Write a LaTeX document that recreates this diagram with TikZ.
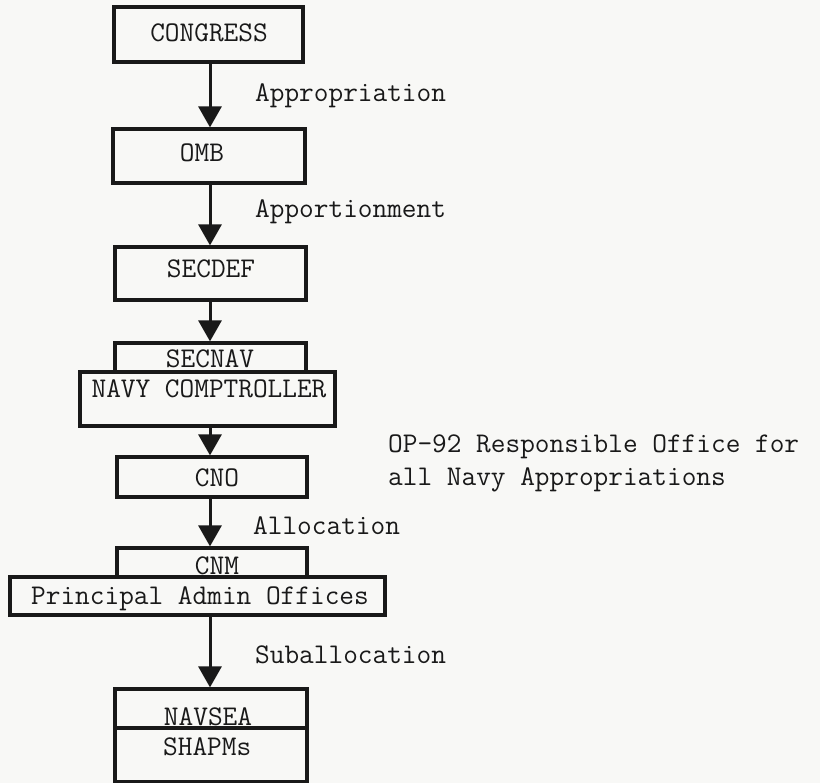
\documentclass[tikz,border=0pt]{standalone}
\usepackage{fontspec}
\newfontfamily\tw{Latin Modern Mono}
\usetikzlibrary{arrows.meta}
\definecolor{paper}{RGB}{248,248,246}
\definecolor{ink}{RGB}{25,25,25}
\begin{document}
\begin{tikzpicture}[x=1pt,y=-1pt,
  box/.style={draw=ink,line width=3.2pt,minimum width=#1,inner sep=0pt},
  txt/.style={font=\tw\fontsize{28.5}{32}\selectfont,text=ink,inner sep=0pt,anchor=base},
  lbl/.style={font=\tw\fontsize{28.5}{32}\selectfont,text=ink,inner sep=0pt,anchor=base west},
  flow/.style={draw=ink,line width=3pt,-{Triangle[width=23pt,length=21pt]}}]
\fill[paper] (0,0) rectangle (820,783);
\useasboundingbox (0,0) rectangle (820,783);
\coordinate (col) at (210,0);
% boxes
\node[box=189pt,minimum height=55pt] (congress) at (208.5,34.5) {};
\node[box=192pt,minimum height=54pt] (omb) at (209,156) {};
\node[box=191pt,minimum height=53pt] (secdef) at (210.5,273.5) {};
\node[box=191pt,minimum height=29pt] (secnav) at (210.5,357.5) {};
\node[box=255pt,minimum height=54pt] (compt) at (207.5,399) {};
\node[box=190pt,minimum height=40pt] (cno) at (212,477) {};
\node[box=190pt,minimum height=29pt] (cnm) at (212,562.5) {};
\node[box=375pt,minimum height=38pt] (pao) at (197.5,596) {};
\node[box=192pt,minimum height=39pt] (navsea) at (211,708.5) {};
\node[box=192pt,minimum height=54pt] (shapms) at (211,755) {};
% box texts
\node[txt] (tcongress) at (209,42) {CONGRESS};
\node[txt] (tomb) at (202,162) {OMB};
\node[txt] (tsecdef) at (211,278) {SECDEF};
\node[txt] (tsecnav) at (210,368) {SECNAV};
\node[txt] (tcompt) at (209,398) {NAVY COMPTROLLER};
\node[txt] (tcno) at (217,487) {CNO};
\node[txt] (tcnm) at (217,575) {CNM};
\node[txt] (tpao) at (200,605) {Principal Admin Offices};
\node[txt] (tnavsea) at (208,725) {NAVSEA};
\node[txt,anchor=base west] (tshapms) at (163,755) {SHAPMs};
% connectors
\draw[flow] (congress.south -| col) -- (omb.north -| col);
\draw[flow] (omb.south -| col) -- (secdef.north -| col);
\draw[flow] (secdef.south -| col) -- (secnav.north -| col);
\draw[flow] (compt.south -| col) -- (cno.north -| col);
\draw[flow] (cno.south -| col) -- (cnm.north -| col);
\draw[flow] (pao.south -| col) -- (navsea.north -| col);
% labels
\node[lbl] (l1) at (255,102) {Appropriation};
\node[lbl] (l2) at (255,218) {Apportionment};
\node[lbl] (l3) at (253,535) {Allocation};
\node[lbl] (l4) at (255,663) {Suballocation};
\node[lbl] (op1) at (388,453) {OP-92 Responsible Office for};
\node[lbl] (op2) at (388,486) {all Navy Appropriations};
\end{tikzpicture}
\end{document}
